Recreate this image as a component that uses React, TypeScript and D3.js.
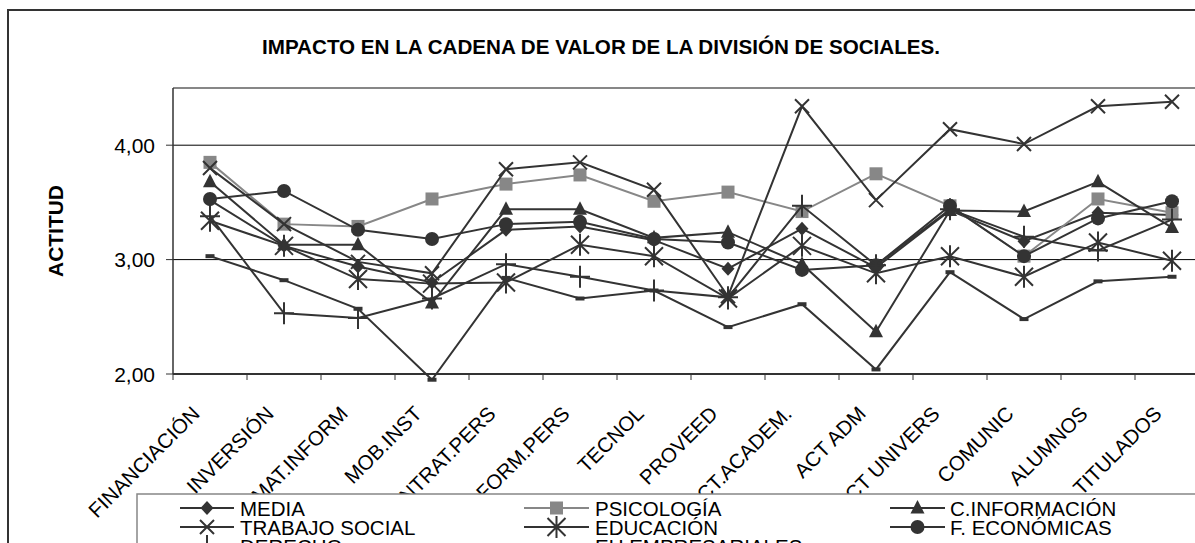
import React from "react";
import * as d3 from "d3";

const categories = ["FINANCIACIÓN","INVERSIÓN","MAT.INFORM","MOB.INST","CONTRAT.PERS","FORM.PERS","TECNOL","PROVEED","ACT.ACADEM.","ACT ADM","ACT UNIVERS","COMUNIC","ALUMNOS","TITULADOS"];

const media = [3.52,3.12,2.94,2.80,3.26,3.29,3.17,2.92,3.27,2.93,3.43,3.16,3.41,3.39];
const psicologia = [3.85,3.31,3.29,3.53,3.66,3.74,3.51,3.59,3.42,3.75,3.47,3.03,3.53,3.41];
const cInformacion = [3.68,3.13,3.13,2.62,3.44,3.44,3.19,3.24,2.96,2.37,3.43,3.42,3.68,3.28];
const trabajoSocial = [3.80,3.31,2.98,2.88,3.79,3.85,3.61,2.68,4.34,3.52,4.14,4.01,4.34,4.38];
const educacion = [3.34,3.12,2.83,2.79,2.80,3.13,3.03,2.66,3.12,2.88,3.03,2.85,3.15,2.99];
const fEconomicas = [3.53,3.60,3.26,3.18,3.31,3.33,3.18,3.15,2.91,2.95,3.47,3.03,3.36,3.51];
const derecho = [3.38,2.53,2.49,2.66,2.96,2.85,2.73,2.67,3.47,2.95,3.44,3.20,3.08,3.35];
const euEmpresariales = [3.03,2.82,2.57,1.95,2.84,2.66,2.73,2.41,2.61,2.04,2.89,2.48,2.81,2.85];

const seriesNames = ["MEDIA","PSICOLOGÍA","C.INFORMACIÓN","TRABAJO SOCIAL","EDUCACIÓN","F. ECONÓMICAS","DERECHO","EU EMPRESARIALES"];
const seriesValues = [media, psicologia, cInformacion, trabajoSocial, educacion, fEconomicas, derecho, euEmpresariales];
const markerKinds = ["diamond","square","triangle","x","asterisk","circle","plus","dash"];

const yTicks = [2, 3, 4];
const yTickLabels = ["2,00", "3,00", "4,00"];

const DARK = "#333333";
const GRAY = "#878787";
const FONT = "Liberation Sans, Arial, Helvetica, sans-serif";

function Marker({ kind, x, y, color }: { kind: string; x: number; y: number; color: string }) {
  switch (kind) {
    case "diamond":
      return <path d={`M${x},${y - 7}L${x + 6.5},${y}L${x},${y + 7}L${x - 6.5},${y}Z`} fill={color} />;
    case "square":
      return <rect x={x - 6.5} y={y - 6.5} width={13} height={13} fill={color} />;
    case "triangle":
      return <path d={`M${x},${y - 8}L${x + 7},${y + 5.5}L${x - 7},${y + 5.5}Z`} fill={color} />;
    case "circle":
      return <circle cx={x} cy={y} r={7} fill={color} />;
    case "x":
      return (
        <path d={`M${x - 7},${y - 7}L${x + 7},${y + 7}M${x - 7},${y + 7}L${x + 7},${y - 7}`} stroke={color} strokeWidth={2} fill="none" />
      );
    case "asterisk":
      return (
        <path
          d={`M${x - 9},${y - 9}L${x + 9},${y + 9}M${x - 9},${y + 9}L${x + 9},${y - 9}M${x},${y - 11}L${x},${y + 11}`}
          stroke={color}
          strokeWidth={2}
          fill="none"
        />
      );
    case "plus":
      return (
        <path d={`M${x - 10},${y}L${x + 10},${y}M${x},${y - 11}L${x},${y + 11}`} stroke={color} strokeWidth={2} fill="none" />
      );
    case "dash":
      return <rect x={x - 4.5} y={y - 2} width={9} height={4} fill={color} />;
    default:
      return null;
  }
}

export default function App() {
  const W = 1195;
  const H = 543;
  const plotLeft = 173;
  const plotRight = 1209;
  const plotTop = 88;
  const plotBottom = 374;

  const x = d3.scaleBand<string>().domain(categories).range([plotLeft, plotRight]);
  const cx = (c: string) => (x(c) as number) + x.bandwidth() / 2;
  const y = d3.scaleLinear().domain([2, 4.5]).range([plotBottom, plotTop]);

  const line = d3
    .line<number>()
    .x((_, i) => cx(categories[i]))
    .y((d) => y(d));

  const legendCols = [
    { lineX0: 180, lineX1: 234, textX: 240 },
    { lineX0: 524, lineX1: 589, textX: 595 },
    { lineX0: 890, lineX1: 945, textX: 950 },
  ];
  const legendRows = [508, 527, 546];

  return (
    <svg
      width={W}
      height={H}
      style={{ position: "absolute", left: 0, top: 0, background: "#fff" }}
      fontFamily={FONT}
    >
      {/* outer frame */}
      <rect x={8} y={10} width={W + 20} height={H + 20} fill="#fff" stroke={DARK} strokeWidth={2} />

      {/* title */}
      <text x={601} y={54} textAnchor="middle" fontWeight="bold" fontSize={20} textLength={678} lengthAdjust="spacingAndGlyphs" fill="#000">
        IMPACTO EN LA CADENA DE VALOR DE LA DIVISIÓN DE SOCIALES.
      </text>

      {/* plot area */}
      <line x1={plotLeft} x2={W + 10} y1={plotTop} y2={plotTop} stroke={GRAY} strokeWidth={2} />
      {yTicks
        .filter((t) => t > 2)
        .map((t) => (
          <line key={t} x1={plotLeft} x2={W + 10} y1={y(t)} y2={y(t)} stroke="#000" strokeWidth={1} />
        ))}
      <line x1={plotLeft} x2={plotLeft} y1={plotTop} y2={plotBottom} stroke={DARK} strokeWidth={1.5} />
      <line x1={plotLeft} x2={W + 10} y1={plotBottom} y2={plotBottom} stroke={DARK} strokeWidth={2} />

      {/* y ticks */}
      {yTicks.map((t, i) => (
        <g key={t}>
          <line x1={plotLeft - 7} x2={plotLeft} y1={y(t)} y2={y(t)} stroke={DARK} strokeWidth={1} />
          <text x={155} y={y(t) + 7.5} textAnchor="end" fontSize={21} fill="#000">
            {yTickLabels[i]}
          </text>
        </g>
      ))}
      <text
        transform={`translate(63,231) rotate(-90)`}
        textAnchor="middle"
        fontWeight="bold"
        fontSize={20}
        textLength={92}
        lengthAdjust="spacingAndGlyphs"
        fill="#000"
      >
        ACTITUD
      </text>

      {/* x ticks */}
      {categories.map((c) => (
        <line key={c} x1={x(c) as number} x2={x(c) as number} y1={plotBottom} y2={plotBottom + 6} stroke={DARK} strokeWidth={1} />
      ))}
      {categories.map((c) => (
        <text
          key={c}
          transform={`translate(${cx(c) - 9},${415}) rotate(-45)`}
          textAnchor="end"
          fontSize={20.5}
          fill="#000"
        >
          {c}
        </text>
      ))}

      {/* series */}
      {seriesValues.map((vals, si) => {
        const color = si === 1 ? GRAY : DARK;
        return (
          <g key={seriesNames[si]}>
            <path d={line(vals) || ""} fill="none" stroke={color} strokeWidth={2} />
            {vals.map((v, i) => (
              <Marker key={i} kind={markerKinds[si]} x={cx(categories[i])} y={y(v)} color={color} />
            ))}
          </g>
        );
      })}

      {/* legend */}
      <rect x={137} y={494} width={W} height={100} fill="#fff" stroke={GRAY} strokeWidth={1.5} />
      {seriesNames.map((name, si) => {
        const col = legendCols[si % 3];
        const ry = legendRows[Math.floor(si / 3)];
        const color = si === 1 ? GRAY : DARK;
        const mx = (col.lineX0 + col.lineX1) / 2;
        return (
          <g key={name}>
            <line x1={col.lineX0} x2={col.lineX1} y1={ry} y2={ry} stroke={color} strokeWidth={2} />
            <Marker kind={markerKinds[si]} x={mx} y={ry} color={color} />
            <text x={col.textX} y={ry + 7.5} fontSize={20.5} fill="#000">
              {name}
            </text>
          </g>
        );
      })}
    </svg>
  );
}
